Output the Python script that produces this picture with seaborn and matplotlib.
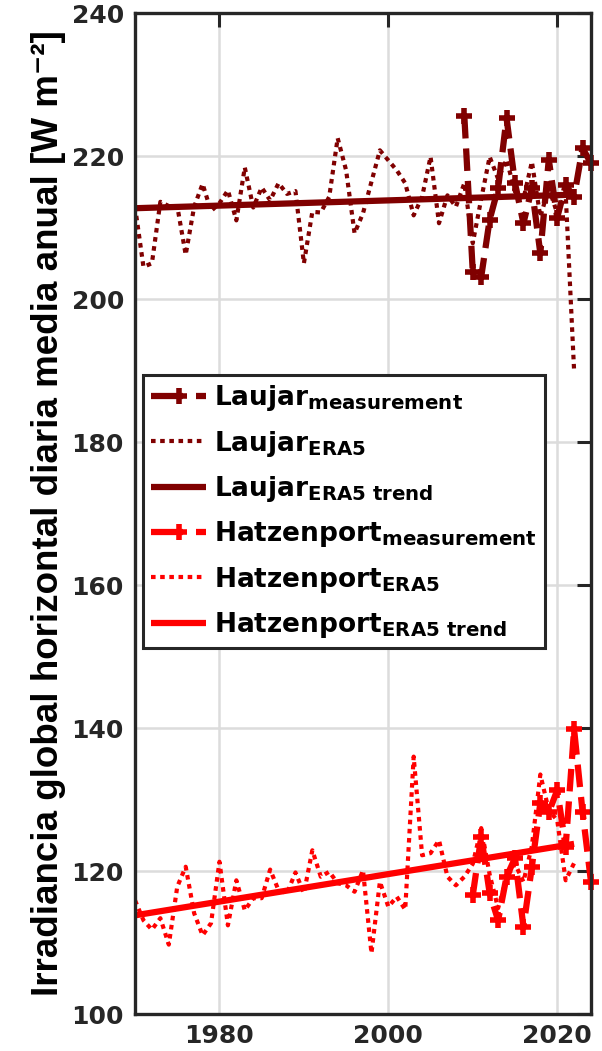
import matplotlib
matplotlib.use("Agg")
import matplotlib.pyplot as plt
import matplotlib._mathtext as _mathtext
import numpy as np
import pandas as pd
import seaborn as sns

# ---- data -------------------------------------------------------------
era5_years = list(range(1970, 2023))
laujar_era5 = [212.9, 204.5, 205.0, 213.6, 213.0, 213.0, 206.2, 212.9, 216.1, 212.3,
               213.4, 215.2, 211.0, 218.4, 212.8, 215.6, 213.8, 216.2, 214.7, 215.1,
               205.0, 212.2, 212.1, 214.3, 222.5, 218.0, 209.2, 212.0, 216.4, 220.8,
               219.4, 218.0, 216.2, 211.7, 214.3, 219.9, 210.6, 214.5, 212.9, 216.2,
               207.8, 214.0, 219.9, 216.8, 219.5, 215.0, 214.0, 219.2, 211.5, 215.5,
               212.0, 214.8, 190.0]
hatzenport_era5 = [115.9, 113.1, 111.8, 113.4, 109.7, 117.8, 120.6, 114.1, 111.0, 112.7,
                   121.3, 112.4, 118.7, 114.5, 116.2, 116.2, 120.2, 117.3, 116.9, 119.8,
                   116.9, 122.9, 119.2, 119.9, 118.3, 118.0, 117.1, 120.1, 108.5, 118.5,
                   115.0, 116.4, 114.6, 136.0, 122.2, 122.5, 124.3, 119.2, 118.0, 119.2,
                   121.0, 126.0, 119.5, 114.8, 119.0, 121.0, 118.5, 123.5, 133.5, 128.5,
                   127.1, 118.7, 121.1]

laujar_meas_years = list(range(2009, 2025))
laujar_meas = [225.6, 203.8, 203.1, 211.1, 215.5, 225.3, 216.2, 210.6, 215.5, 206.4,
               219.5, 211.4, 215.9, 214.3, 221.1, 219.0]
hatzenport_meas_years = list(range(2010, 2025))
hatzenport_meas = [116.6, 124.8, 116.9, 113.1, 119.2, 121.8, 112.2, 120.6, 129.5, 128.2,
                   131.3, 123.4, 139.8, 128.3, 118.5]

trend_years = [1970, 2022]
laujar_trend = [212.7, 214.6]
hatzenport_trend = [113.8, 123.8]

x_ticks = [1980, 2000, 2020]
y_ticks = [100, 120, 140, 160, 180, 200, 220, 240]

ylabel = "Irradiancia global horizontal diaria media anual [W m\u207b\u00b2]"
labels = [r"Laujar$_{measurement}$", r"Laujar$_{ERA5}$", r"Laujar$_{ERA5\ trend}$",
          r"Hatzenport$_{measurement}$", r"Hatzenport$_{ERA5}$",
          r"Hatzenport$_{ERA5\ trend}$"]

# ---- style ------------------------------------------------------------
sns.set_theme(style="whitegrid")
plt.rcParams["font.family"] = ["DejaVu Sans"]
plt.rcParams["font.weight"] = "bold"
plt.rcParams["mathtext.default"] = "regular"
plt.rcParams["lines.solid_capstyle"] = "butt"
# slightly larger subscripts in the legend labels
_mathtext.SHRINK_FACTOR = 0.75

dark_red = "#800000"
red = "#ff0000"
ink = "#262626"

fig = plt.figure(figsize=(6.02, 10.51), dpi=100)
ax = fig.add_axes([0.2243, 0.0352, 0.7574, 0.9524])

meas_style = dict(linestyle=(0, (3.6, 1.6)), linewidth=4.5, marker="+",
                  markersize=11, markeredgewidth=4.0, clip_on=False)
era5_style = dict(linestyle=(0, (1.1, 1.1)), linewidth=3.0)
trend_style = dict(linestyle="-", linewidth=4.5)

sns.lineplot(x=laujar_meas_years, y=laujar_meas, ax=ax, color=dark_red,
             markeredgecolor=dark_red, label=labels[0], **meas_style)
sns.lineplot(x=era5_years, y=laujar_era5, ax=ax, color=dark_red,
             label=labels[1], **era5_style)
sns.lineplot(x=trend_years, y=laujar_trend, ax=ax, color=dark_red,
             label=labels[2], **trend_style)
sns.lineplot(x=hatzenport_meas_years, y=hatzenport_meas, ax=ax, color=red,
             markeredgecolor=red, label=labels[3], **meas_style)
sns.lineplot(x=era5_years, y=hatzenport_era5, ax=ax, color=red,
             label=labels[4], **era5_style)
sns.lineplot(x=trend_years, y=hatzenport_trend, ax=ax, color=red,
             label=labels[5], **trend_style)

ax.set_xlim(1970, 2024)
ax.set_ylim(100, 240)
ax.set_xticks(x_ticks)
ax.set_yticks(y_ticks)
ax.set_xlabel("")
ax.set_ylabel(ylabel, family=["Liberation Sans", "DejaVu Sans"], fontweight="bold",
              fontsize=26.5, color="black", labelpad=4)

ax.grid(True, color="#dcdcdc", linewidth=1.8)
ax.set_facecolor("white")
for side in ax.spines.values():
    side.set_visible(True)
    side.set_color(ink)
    side.set_linewidth(2.4)
ax.tick_params(axis="both", direction="in", length=10, width=2.2, color=ink,
               labelcolor=ink, labelsize=18, top=True, right=True)
ax.tick_params(axis="y", pad=8)
ax.tick_params(axis="x", pad=7)
for t in ax.get_xticklabels() + ax.get_yticklabels():
    t.set_fontweight("bold")

leg = ax.legend(loc="upper left", bbox_to_anchor=(0.0175, 0.638), fontsize=19,
                frameon=True, fancybox=False, framealpha=1, edgecolor=ink,
                handlelength=2.1, handletextpad=0.3, labelspacing=0.58,
                borderpad=0.3, borderaxespad=0)
leg.get_frame().set_linewidth(2.2)
for t in leg.get_texts():
    t.set_fontweight("bold")
    t.set_color("black")
# measurement keys: dash up to the marker, a gap, then a short dash
for i in (0, 3):
    leg.legend_handles[i].set_linestyle((0, (5.1, 2.1, 3.0, 2.0)))

fig.savefig("out.png", dpi=100)
